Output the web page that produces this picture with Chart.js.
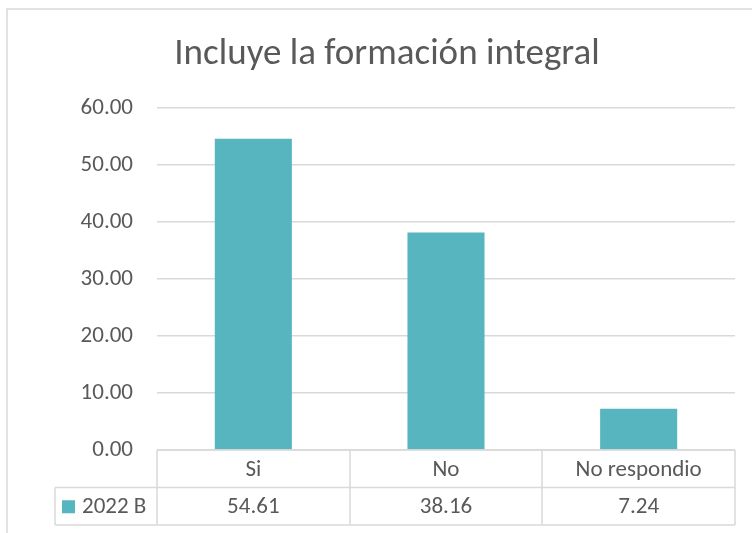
<!DOCTYPE html>
<html>
<head>
<meta charset="utf-8">
<script src="https://cdn.jsdelivr.net/npm/chart.js@4"></script>
<style>
  html, body { margin: 0; padding: 0; background: #fff; }
  #wrap { width: 752px; height: 533px; }
</style>
</head>
<body>
<div id="wrap"><canvas id="myChart" width="752" height="533"></canvas></div>
<script>
'use strict';
let categories = ['Si', 'No', 'No respondio'];
let seriesName = '2022 B';
let values = [54.61, 38.16, 7.24];
let chartTitle = 'Incluye la formación integral';
let barColor = '#57B5C0';
let fontFam = 'Carlito, "Liberation Sans Narrow", "Open Sans", sans-serif';

// draws frame, title and the data table under the plot
let tablePlugin = {
  id: 'tablePlugin',
  afterDraw(chart) {
    let ctx = chart.ctx;
    let area = chart.chartArea;
    let xs = chart.scales.x;
    ctx.save();
    // outer frame
    ctx.strokeStyle = '#d9d9d9';
    ctx.lineWidth = 1.5;
    ctx.beginPath();
    ctx.moveTo(7, 533);
    ctx.lineTo(7, 9);
    ctx.lineTo(752, 9);
    ctx.stroke();

    // title
    ctx.fillStyle = '#595959';
    ctx.font = '37px ' + fontFam;
    ctx.textAlign = 'center';
    ctx.textBaseline = 'middle';
    ctx.fillText(chartTitle, 387, 55);

    // table
    let rowH = 37.5;
    let top = area.bottom;
    let legLeft = 55;
    ctx.strokeStyle = '#d9d9d9';
    ctx.lineWidth = 1.5;
    ctx.beginPath();
    ctx.moveTo(area.left, top);
    ctx.lineTo(area.right, top);
    ctx.moveTo(legLeft, top + rowH);
    ctx.lineTo(area.right, top + rowH);
    ctx.moveTo(legLeft, top + 2 * rowH);
    ctx.lineTo(area.right, top + 2 * rowH);
    ctx.moveTo(legLeft, top + rowH);
    ctx.lineTo(legLeft, top + 2 * rowH);
    let colW = (area.right - area.left) / categories.length;
    for (let i = 0; i <= categories.length; i++) {
      let x = Math.round(area.left + i * colW);
      ctx.moveTo(x, top);
      ctx.lineTo(x, top + 2 * rowH);
    }
    ctx.stroke();

    ctx.fillStyle = '#595959';
    ctx.font = '23px ' + fontFam;
    ctx.textAlign = 'center';
    for (let i = 0; i < categories.length; i++) {
      let cx = xs.getPixelForValue(i);
      ctx.fillText(categories[i], cx, top + rowH / 2 + 1);
      ctx.fillText(values[i].toFixed(2), cx, top + rowH * 1.5 + 1);
    }
    // legend key
    ctx.fillStyle = barColor;
    ctx.fillRect(62, top + rowH * 1.5 - 6, 13, 13);
    ctx.fillStyle = '#595959';
    ctx.textAlign = 'left';
    ctx.fillText(seriesName, 82, top + rowH * 1.5 + 1);
    ctx.restore();
  }
};

let ctx = document.getElementById('myChart').getContext('2d');
let myChart = new Chart(ctx, {
  type: 'bar',
  data: {
    labels: categories,
    datasets: [{
      label: seriesName,
      data: values,
      backgroundColor: barColor,
      categoryPercentage: 0.8,
      barPercentage: 0.5
    }]
  },
  options: {
    responsive: false,
    animation: false,
    layout: { padding: { top: 108, bottom: 83, left: 0, right: 17 } },
    plugins: {
      legend: { display: false },
      title: { display: false },
      tooltip: { enabled: false }
    },
    scales: {
      x: {
        display: false
      },
      y: {
        min: 0,
        max: 60,
        afterFit(scale) { scale.width = 157; },
        ticks: {
          stepSize: 10,
          padding: 24,
          color: '#595959',
          font: { family: fontFam, size: 23 },
          callback: function (v) { return v.toFixed(2); }
        },
        grid: { color: '#d9d9d9', lineWidth: 1.5, drawTicks: false },
        border: { display: false }
      }
    }
  },
  plugins: [tablePlugin]
});
</script>
</body>
</html>
